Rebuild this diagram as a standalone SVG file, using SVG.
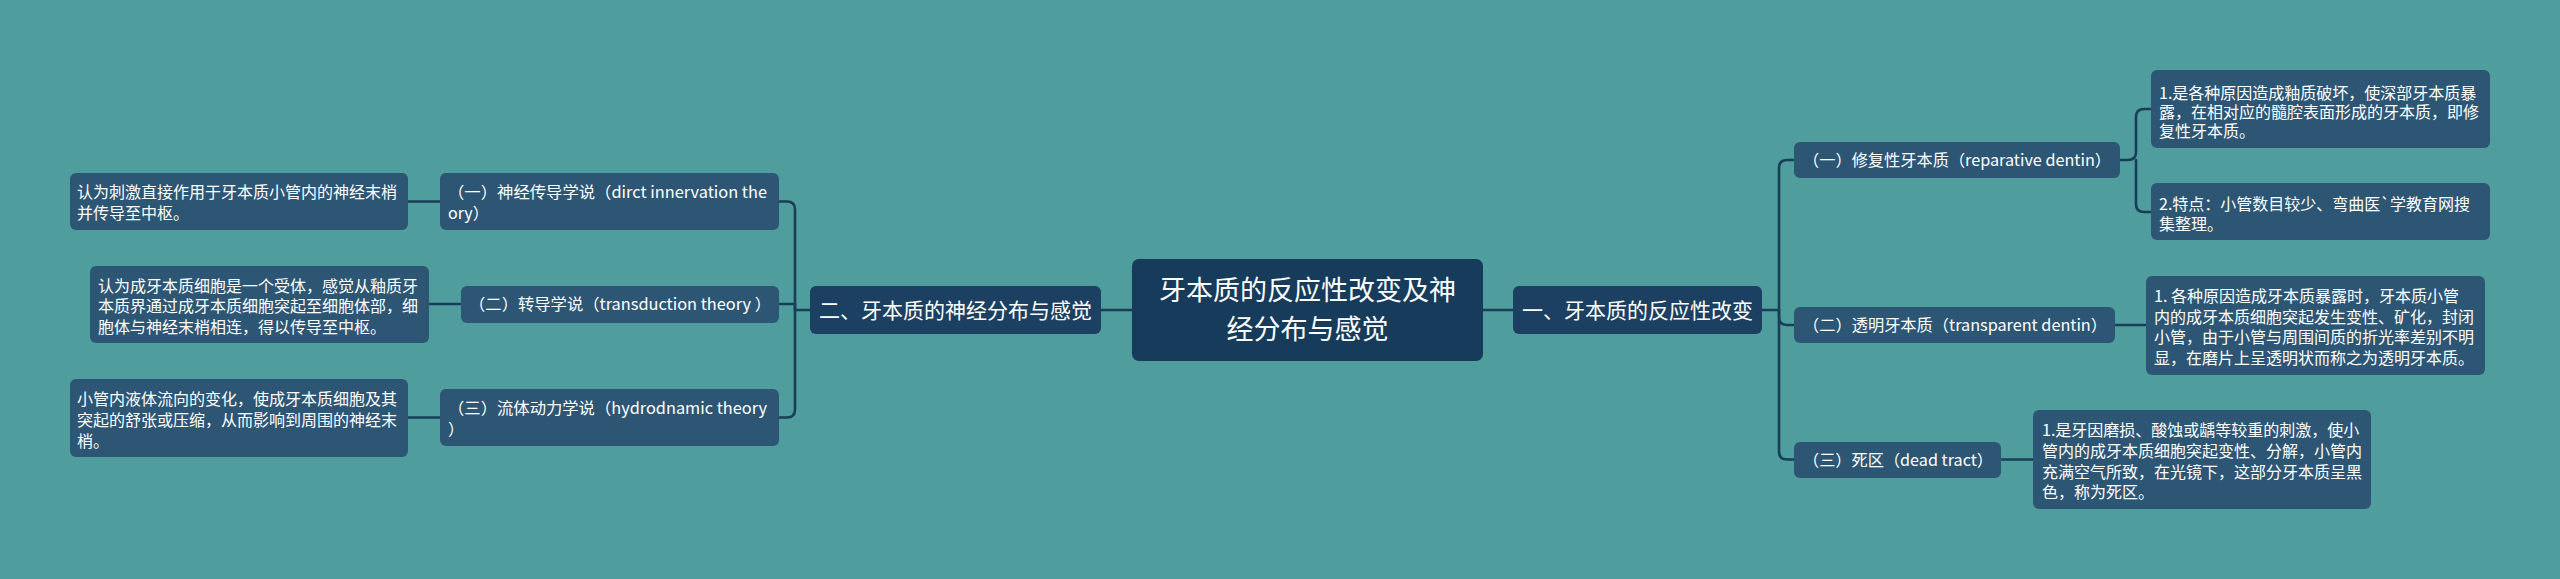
<svg xmlns="http://www.w3.org/2000/svg" width="2560" height="579" viewBox="0 0 2560 579">
<style>
.bg{fill:#4f9d9c}
.root{fill:#173b5a}
.br{fill:#1b4061}
.nd{fill:#2d5675}
.t{fill:#ffffff;font-family:"Noto Sans CJK SC","Noto Sans",sans-serif}
.s16{font-size:16px}
.s21{font-size:21px}
.s27{font-size:27px}
.ln{fill:none;stroke:#1a3d58;stroke-width:2.6;stroke-linecap:round;stroke-linejoin:round}
</style>
<rect class="bg" x="0" y="0" width="2560" height="579"/>
<g id="connectors">
<path class="ln" d="M1132,310 H1101"/>
<path class="ln" d="M1483,310 H1513"/>
<path class="ln" d="M810,310 H795 M795,310 V209.5 Q795,201.5 787,201.5 H779"/>
<path class="ln" d="M795,310 V304 H779"/>
<path class="ln" d="M795,310 V409.5 Q795,417.5 787,417.5 H779"/>
<path class="ln" d="M440,201.5 H408"/>
<path class="ln" d="M461,304 H429"/>
<path class="ln" d="M440,417.5 H408"/>
<path class="ln" d="M1762,310 H1779 M1779,310 V168 Q1779,160 1787,160 H1794"/>
<path class="ln" d="M1779,310 V317 Q1779,325 1787,325 H1794"/>
<path class="ln" d="M1779,310 V451.5 Q1779,459.5 1787,459.5 H1794"/>
<path class="ln" d="M2120,160 H2128 Q2136,160 2136,152 V117 Q2136,109 2144,109 H2151"/>
<path class="ln" d="M2136,160 V204 Q2136,212 2144,212 H2151"/>
<path class="ln" d="M2115,325 H2146"/>
<path class="ln" d="M2001,459.5 H2033"/>
</g>
<g id="root">
<rect class="root" x="1132" y="259" width="351" height="102" rx="7"/>
<text class="t s27" x="1307.5" y="300" text-anchor="middle">牙本质的反应性改变及神</text>
<text class="t s27" x="1307.5" y="338.5" text-anchor="middle">经分布与感觉</text>
</g>
<g id="branch-left">
<rect class="br" x="810" y="286" width="291" height="48" rx="6"/>
<text class="t s21" x="955.5" y="318" text-anchor="middle">二、牙本质的神经分布与感觉</text>
</g>
<g id="branch-right">
<rect class="br" x="1513" y="286" width="249" height="48" rx="6"/>
<text class="t s21" x="1637.5" y="318" text-anchor="middle">一、牙本质的反应性改变</text>
</g>
<g id="mid-l1">
<rect class="nd" x="440" y="173" width="339" height="57" rx="6"/>
<text class="t s16" x="448" y="198" textLength="319" lengthAdjust="spacingAndGlyphs">（一）神经传导学说（dirct innervation the</text>
<text class="t s16" x="448" y="219">ory）</text>
</g>
<g id="leaf-l1">
<rect class="nd" x="70" y="173" width="338" height="57" rx="6"/>
<text class="t s16" x="77" y="198">认为刺激直接作用于牙本质小管内的神经末梢</text>
<text class="t s16" x="77" y="219">并传导至中枢。</text>
</g>
<g id="mid-l2">
<rect class="nd" x="461" y="286" width="318" height="37" rx="6"/>
<text class="t s16" x="469" y="310" textLength="302" lengthAdjust="spacingAndGlyphs">（二）转导学说（transduction theory ）</text>
</g>
<g id="leaf-l2">
<rect class="nd" x="90" y="266" width="339" height="77" rx="6"/>
<text class="t s16" x="98" y="291.5">认为成牙本质细胞是一个受体，感觉从釉质牙</text>
<text class="t s16" x="98" y="312">本质界通过成牙本质细胞突起至细胞体部，细</text>
<text class="t s16" x="98" y="332.5">胞体与神经末梢相连，得以传导至中枢。</text>
</g>
<g id="mid-l3">
<rect class="nd" x="440" y="389" width="339" height="57" rx="6"/>
<text class="t s16" x="448" y="414" textLength="319" lengthAdjust="spacingAndGlyphs">（三）流体动力学说（hydrodnamic theory</text>
<text class="t s16" x="448" y="435">）</text>
</g>
<g id="leaf-l3">
<rect class="nd" x="70" y="379" width="338" height="78" rx="6"/>
<text class="t s16" x="77" y="405">小管内液体流向的变化，使成牙本质细胞及其</text>
<text class="t s16" x="77" y="426">突起的舒张或压缩，从而影响到周围的神经末</text>
<text class="t s16" x="77" y="447">梢。</text>
</g>
<g id="mid-r1">
<rect class="nd" x="1794" y="142" width="326" height="36" rx="6"/>
<text class="t s16" x="1803" y="166" textLength="308" lengthAdjust="spacingAndGlyphs">（一）修复性牙本质（reparative dentin）</text>
</g>
<g id="leaf-r1a">
<rect class="nd" x="2151" y="70" width="339" height="78" rx="6"/>
<text class="t s16" x="2159" y="98.5">1.是各种原因造成釉质破坏，使深部牙本质暴</text>
<text class="t s16" x="2159" y="118">露，在相对应的髓腔表面形成的牙本质，即修</text>
<text class="t s16" x="2159" y="137">复性牙本质。</text>
</g>
<g id="leaf-r1b">
<rect class="nd" x="2151" y="183" width="339" height="57" rx="6"/>
<text class="t s16" x="2159" y="210">2.特点：小管数目较少、弯曲医`学教育网搜</text>
<text class="t s16" x="2159" y="230">集整理。</text>
</g>
<g id="mid-r2">
<rect class="nd" x="1794" y="307" width="321" height="36" rx="6"/>
<text class="t s16" x="1803" y="331" textLength="304" lengthAdjust="spacingAndGlyphs">（二）透明牙本质（transparent dentin）</text>
</g>
<g id="leaf-r2">
<rect class="nd" x="2146" y="276" width="339" height="99" rx="6"/>
<text class="t s16" x="2154" y="301.5">1. 各种原因造成牙本质暴露时，牙本质小管</text>
<text class="t s16" x="2154" y="322.5">内的成牙本质细胞突起发生变性、矿化，封闭</text>
<text class="t s16" x="2154" y="343">小管，由于小管与周围间质的折光率差别不明</text>
<text class="t s16" x="2154" y="363.5">显，在磨片上呈透明状而称之为透明牙本质。</text>
</g>
<g id="mid-r3">
<rect class="nd" x="1794" y="442" width="207" height="36" rx="6"/>
<text class="t s16" x="1803" y="466" textLength="190" lengthAdjust="spacingAndGlyphs">（三）死区（dead tract）</text>
</g>
<g id="leaf-r3">
<rect class="nd" x="2033" y="410" width="338" height="99" rx="6"/>
<text class="t s16" x="2042" y="436">1.是牙因磨损、酸蚀或龋等较重的刺激，使小</text>
<text class="t s16" x="2042" y="456.5">管内的成牙本质细胞突起变性、分解，小管内</text>
<text class="t s16" x="2042" y="477.5">充满空气所致，在光镜下，这部分牙本质呈黑</text>
<text class="t s16" x="2042" y="498">色，称为死区。</text>
</g>
</svg>
